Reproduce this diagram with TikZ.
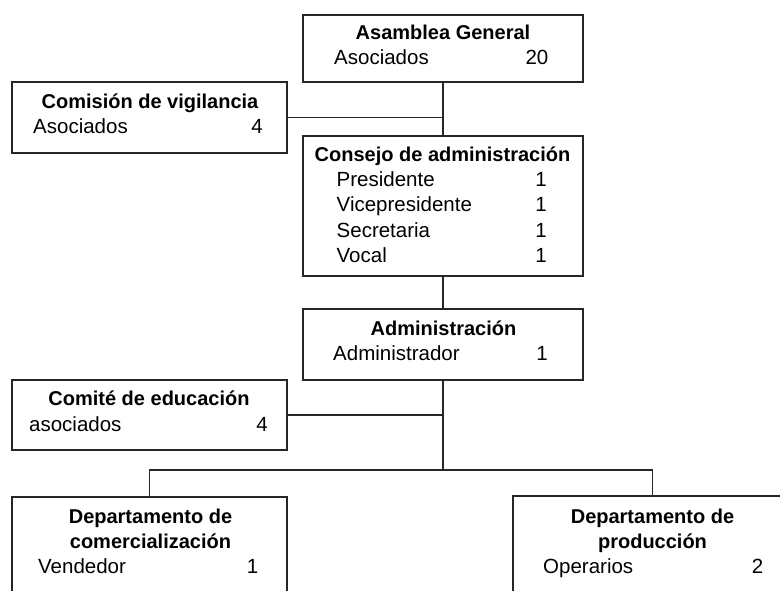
\documentclass[tikz,border=0pt]{standalone}
\usepackage{fontspec}
\setmainfont{Liberation Sans}
\begin{document}
\begin{tikzpicture}[x=1pt,y=-1pt,
  box/.style={draw=black!85, line width=1.4pt, rectangle, inner sep=0pt},
  line/.style={draw=black!85, line width=1.4pt},
  ttl/.style={font=\fontsize{20}{24}\selectfont\bfseries, anchor=base, inner sep=0pt, align=center},
  lbl/.style={font=\fontsize{20.5}{24}\selectfont, anchor=base west, inner sep=0pt},
  num/.style={font=\fontsize{20.5}{24}\selectfont, anchor=base east, inner sep=0pt}]
\useasboundingbox (0,0) rectangle (780,591);
\clip (0,0) rectangle (780,591);
\fill[white] (0,0) rectangle (780,591);
% boxes
\node[box, minimum width=280pt, minimum height=67pt] (asam) at (443,48.5) {};
\node[box, minimum width=275pt, minimum height=71pt] (comis) at (149.5,117.5) {};
\node[box, minimum width=280pt, minimum height=140pt] (cons) at (443,206) {};
\node[box, minimum width=280pt, minimum height=71pt] (admin) at (443,344.5) {};
\node[box, minimum width=275pt, minimum height=70pt] (comite) at (149.5,415) {};
\node[box, minimum width=275pt, minimum height=130pt] (dcom) at (149.5,562) {};
\node[box, minimum width=279pt, minimum height=130pt] (dprod) at (652.5,561) {};
% connectors
\coordinate (bus) at (443,470);
\draw[line] (asam.south) -- (cons.north);
\draw[line] (comis.east) -- (asam.south |- comis.east);
\draw[line] (cons.south) -- (admin.north);
\draw[line] (admin.south) -- (bus);
\draw[line] (comite.east) -- (admin.south |- comite.east);
\draw[line] (dcom.north) |- (bus) -| (dprod.north);
% texts
\node[ttl] (t1) at (443,40) {Asamblea General};
\node[lbl] (l1) at (334,64.5) {Asociados};
\node[num] (n1) at (548.5,64.5) {20};

\node[ttl] (t2) at (150,109) {Comisión de vigilancia};
\node[lbl] (l2) at (33,133.5) {Asociados};
\node[num] (n2) at (263,133.5) {4};

\node[ttl] (t3) at (442.5,162) {Consejo de administración};
\node[lbl] (l3a) at (336.5,187) {Presidente};
\node[num] (n3a) at (547,187) {1};
\node[lbl] (l3b) at (336.5,212) {Vicepresidente};
\node[num] (n3b) at (547,212) {1};
\node[lbl] (l3c) at (336.5,237) {Secretaria};
\node[num] (n3c) at (547,237) {1};
\node[lbl] (l3d) at (336.5,262) {Vocal};
\node[num] (n3d) at (547,262) {1};

\node[ttl] (t4) at (443.5,335) {Administración};
\node[lbl] (l4) at (333,360) {Administrador};
\node[num] (n4) at (548,360) {1};

\node[ttl] (t5) at (149,405) {Comité de educación};
\node[lbl] (l5) at (29,431.5) {asociados};
\node[num] (n5) at (268,431.5) {4};

\node[ttl] (t6a) at (150.5,523) {Departamento de};
\node[ttl] (t6b) at (150.5,548) {comercialización};
\node[lbl] (l6) at (38,573) {Vendedor};
\node[num] (n6) at (258.5,573) {1};

\node[ttl] (t7a) at (652.5,523) {Departamento de};
\node[ttl] (t7b) at (652.5,548) {producción};
\node[lbl] (l7) at (543,573) {Operarios};
\node[num] (n7) at (763.5,573) {2};
\end{tikzpicture}
\end{document}
